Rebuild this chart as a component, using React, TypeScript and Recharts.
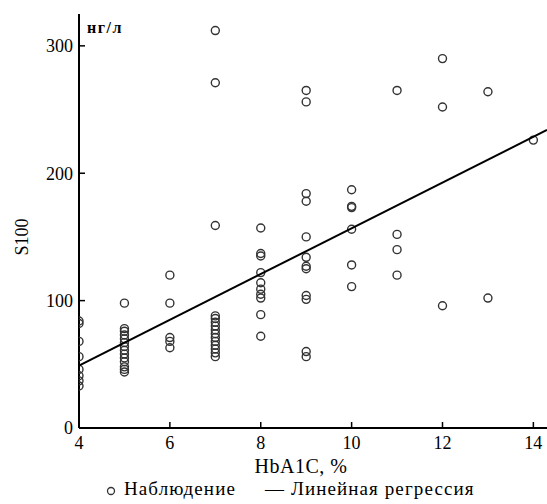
import React from 'react';
import { ScatterChart, Scatter, XAxis, YAxis } from 'recharts';

// HbA1C levels (categories on x) and S100 observations at each level
const hba1cLevels = [4, 5, 6, 7, 8, 9, 10, 11, 12, 13, 14];
const s100At4 = [84, 82, 68, 56, 46, 41, 37, 33];
const s100At5 = [98, 78, 76, 73, 70, 67, 64, 61, 58, 55, 52, 48, 46, 44];
const s100At6 = [120, 98, 71, 68, 63];
const s100At7 = [312, 271, 159, 88, 86, 83, 80, 77, 74, 71, 68, 65, 62, 59, 56];
const s100At8 = [157, 137, 135, 122, 114, 109, 105, 102, 89, 72];
const s100At9 = [265, 256, 184, 178, 150, 134, 127, 125, 104, 101, 60, 56];
const s100At10 = [187, 174, 173, 156, 128, 111];
const s100At11 = [265, 152, 140, 120];
const s100At12 = [290, 252, 96];
const s100At13 = [264, 102];
const s100At14 = [226];

// regression line end points
const regressionX = [4, 14.3];
const regressionY = [49, 234];

const xTicks = [4, 6, 8, 10, 12, 14];
const yTicks = [0, 100, 200, 300];

const columns = [s100At4, s100At5, s100At6, s100At7, s100At8, s100At9, s100At10, s100At11, s100At12, s100At13, s100At14];

const observations = columns.flatMap((col, i) => col.map((v) => ({ x: hba1cLevels[i], y: v })));
const regression = regressionX.map((x, i) => ({ x, y: regressionY[i] }));

const FONT = '"Liberation Serif", "DejaVu Serif", serif';

const Ring = (props: any) => {
  const { cx, cy } = props;
  if (cx == null || cy == null) return null;
  return <circle cx={cx} cy={cy} r={4} fill="none" stroke="#333" strokeWidth={1.4} />;
};

const NoShape = () => null;

export default function App() {
  return (
    <div style={{ position: 'absolute', left: 0, top: 0, width: 547, height: 504, background: '#fff', fontFamily: FONT }}>
      <ScatterChart width={547} height={504} margin={{ top: 14, right: 0, bottom: 0, left: 0 }}>
        <XAxis
          type="number"
          dataKey="x"
          domain={[4, 14.3]}
          ticks={xTicks}
          allowDataOverflow
          height={76}
          axisLine={{ stroke: '#000', strokeWidth: 2 }}
          tickLine={{ stroke: '#000', strokeWidth: 1.5 }}
          tickSize={-6}
          tickMargin={14}
          tick={{ fill: '#000', fontSize: 18, fontFamily: FONT }}
          label={() => (
            <text x={301} y={473} textAnchor="middle" fontSize={20} fontFamily={FONT} fill="#000" letterSpacing={0.5}>
              HbA1C, %
            </text>
          )}
        />
        <YAxis
          type="number"
          dataKey="y"
          domain={[0, 325]}
          ticks={yTicks}
          allowDataOverflow
          width={79}
          axisLine={{ stroke: '#000', strokeWidth: 2 }}
          tickLine={{ stroke: '#000', strokeWidth: 1.5 }}
          tickSize={-6}
          tickMargin={12}
          tick={{ fill: '#000', fontSize: 18, fontFamily: FONT }}
          label={() => (
            <text x={28} y={237} transform="rotate(-90 28 237)" textAnchor="middle" fontSize={18} fontFamily={FONT} fill="#000">
              S100
            </text>
          )}
        />
        <Scatter data={observations} shape={<Ring />} isAnimationActive={false} />
        <Scatter data={regression} line={{ stroke: '#000', strokeWidth: 2 }} shape={<NoShape />} isAnimationActive={false} />
        <text x={87} y={33} fontSize={16} fontWeight="bold" fontFamily={FONT} fill="#000" letterSpacing={1.5}>нг/л</text>
      </ScatterChart>
      <div style={{ position: 'absolute', left: 0, top: 478, width: 547, fontSize: 19, fontFamily: FONT, color: '#000', letterSpacing: 1.1, whiteSpace: 'nowrap' }}>
        <span style={{ position: 'absolute', left: 106, top: 0 }}>
          <svg width={10} height={10} style={{ marginRight: 8, verticalAlign: 'middle' }}>
            <circle cx={5} cy={5} r={3.5} fill="none" stroke="#333" strokeWidth={1.3} />
          </svg>
          Наблюдение
        </span>
        <span style={{ position: 'absolute', left: 265, top: 0 }}>— Линейная регрессия</span>
      </div>
    </div>
  );
}
